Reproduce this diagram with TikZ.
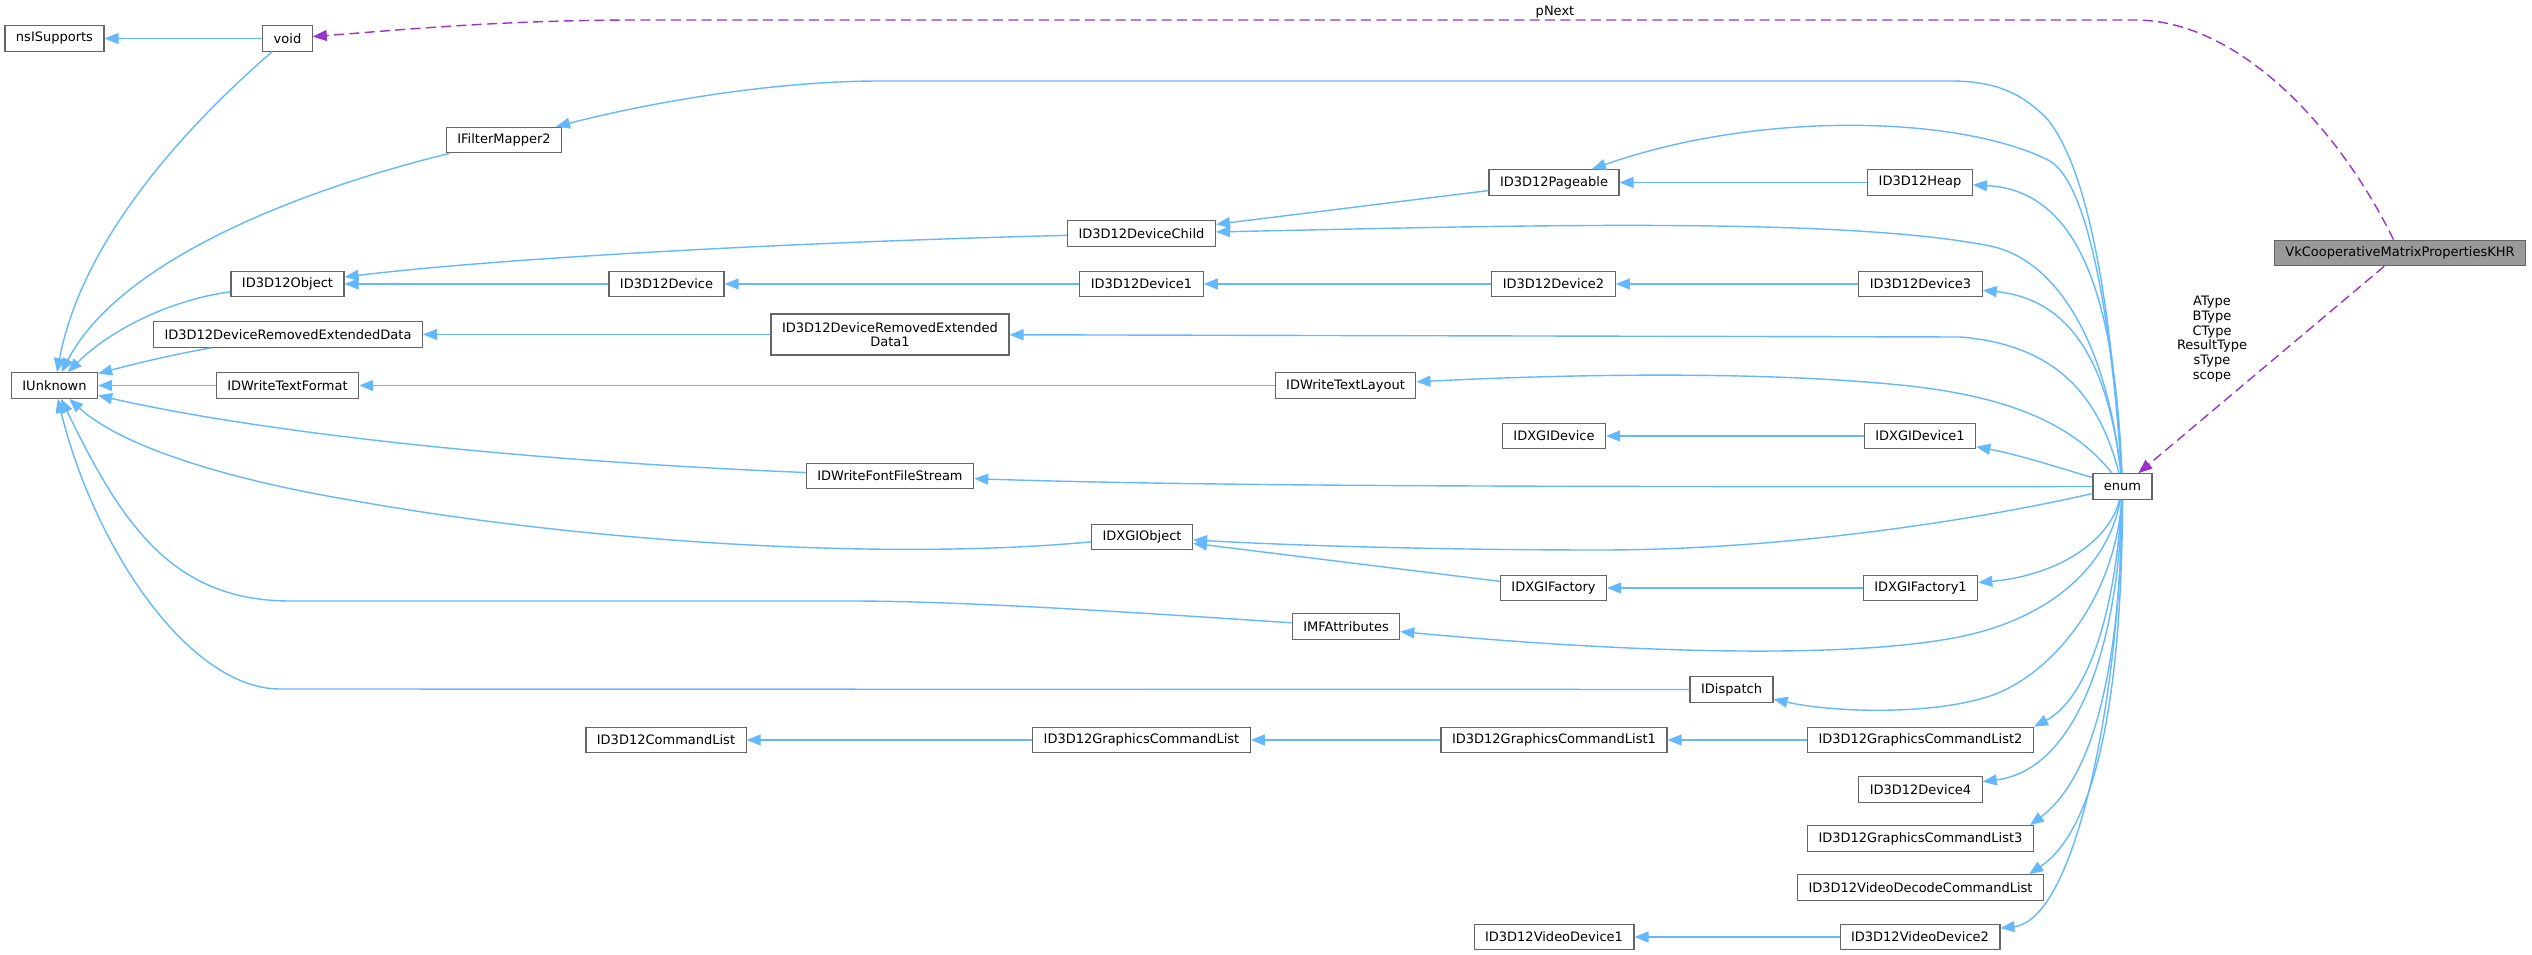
\documentclass[tikz,border=0pt]{standalone}
\usepackage{fontspec}
\setmainfont{DejaVu Sans}
\usetikzlibrary{arrows.meta,calc}
\definecolor{edgeblue}{HTML}{63B8FF}
\definecolor{edgeviolet}{HTML}{9A32CD}
\definecolor{boxline}{HTML}{666666}
\definecolor{focusfill}{HTML}{999999}
\tikzset{classbox/.style={draw=boxline,fill=white,line width=.9pt,inner xsep=8.25pt,inner ysep=0pt,minimum height=19.1pt,font=\fontsize{9.75}{11}\selectfont,align=center},
focusbox/.style={classbox,fill=focusfill},
inherit/.style={edgeblue,line width=1.05pt,-{Triangle[length=10.5pt,width=8.25pt]}},
usage/.style={edgeviolet,line width=1.05pt,dash pattern=on 7.5pt off 4pt,-{Triangle[length=10.5pt,width=8.25pt]}},
edgelabel/.style={font=\fontsize{9.75}{11}\selectfont,align=center,inner sep=0pt}}

\begin{document}
\begin{tikzpicture}[x=.75pt,y=-.75pt]
\fill[white] (0,0) rectangle (2532,955);
% classes, column by column
\node[classbox] (nsis) at (54.5,38.5) {nsISupports};
\node[classbox] (iunk) at (54.5,385.5) {IUnknown};
\node[classbox] (void) at (287.5,38.5) {void};
\node[classbox] (ifm) at (504,140) {IFilterMapper2};
\node[classbox] (d3dobj) at (287.5,284) {ID3D12Object};
\node[classbox] (dred) at (288,334.5) {ID3D12DeviceRemovedExtendedData};
\node[classbox] (tformat) at (287.5,385.5) {IDWriteTextFormat};
\node[classbox] (dev) at (666.5,284) {ID3D12Device};
\node[classbox] (cmdlist) at (666,740) {ID3D12CommandList};
\node[classbox,minimum height=30.75pt] (dred1) at (890,334.5) {ID3D12DeviceRemovedExtended\\Data1};
\node[classbox] (ffs) at (890,476) {IDWriteFontFileStream};
\node[classbox] (dchild) at (1141.5,233.5) {ID3D12DeviceChild};
\node[classbox] (dev1) at (1141.5,284) {ID3D12Device1};
\node[classbox] (dxobj) at (1142,537) {IDXGIObject};
\node[classbox] (gcl) at (1141.5,740) {ID3D12GraphicsCommandList};
\node[classbox] (tlayout) at (1345.5,385.5) {IDWriteTextLayout};
\node[classbox] (mfattr) at (1346,626.5) {IMFAttributes};
\node[classbox] (pageable) at (1554,182.5) {ID3D12Pageable};
\node[classbox] (dev2) at (1553.5,284) {ID3D12Device2};
\node[classbox] (dxdev) at (1554,436) {IDXGIDevice};
\node[classbox] (dxfac) at (1553.5,588) {IDXGIFactory};
\node[classbox] (gcl1) at (1554,740) {ID3D12GraphicsCommandList1};
\node[classbox] (vdev1) at (1554,937) {ID3D12VideoDevice1};
\node[classbox] (dispatch) at (1731.5,689.5) {IDispatch};
\node[classbox] (heap) at (1920,182.5) {ID3D12Heap};
\node[classbox] (dev3) at (1920.5,284) {ID3D12Device3};
\node[classbox] (dxdev1) at (1920,436) {IDXGIDevice1};
\node[classbox] (dxfac1) at (1920.5,588) {IDXGIFactory1};
\node[classbox] (gcl2) at (1920.5,740) {ID3D12GraphicsCommandList2};
\node[classbox] (dev4) at (1920.5,789.5) {ID3D12Device4};
\node[classbox] (gcl3) at (1920.5,838.5) {ID3D12GraphicsCommandList3};
\node[classbox] (vdcl) at (1920.5,887.5) {ID3D12VideoDecodeCommandList};
\node[classbox] (vdev2) at (1920,937) {ID3D12VideoDevice2};
\node[classbox] (enum) at (2122.5,486.5) {enum};
\node[focusbox] (vkcmp) at (2400,253) {VkCooperativeMatrixPropertiesKHR};

% inheritance
\draw[inherit] (void) -- (nsis);
\draw[inherit] (void) .. controls (170,140) and (80,250) .. (iunk);
\draw[inherit] (ifm) .. controls (300,190) and (120,260) .. (iunk);
\draw[inherit] (d3dobj) .. controls (170,300) and (110,330) .. (iunk);
\draw[inherit] (dred) .. controls (170,355) and (130,365) .. (iunk);
\draw[inherit] (tformat) -- (iunk);
\draw[inherit] (ffs) .. controls (500,460) and (250,430) .. (iunk);
\draw[inherit] (dxobj) .. controls (900,560) and (600,545) .. (350,500) .. controls (220,478) and (120,445) .. (iunk);
\draw[inherit] (mfattr) .. controls (1100,610) and (950,601) .. (850,601) -- (290,601) .. controls (170,601) and (120,520) .. (iunk);
\draw[inherit] (dispatch) -- (280,689) .. controls (190,689) and (95,550) .. (iunk);
\draw[inherit] (dev) -- (d3dobj);
\draw[inherit] (dchild) .. controls (800,242) and (500,258) .. (d3dobj);
\draw[inherit] (dev1) -- (dev);
\draw[inherit] (dred1) -- (dred);
\draw[inherit] (tlayout) -- (tformat);
\draw[inherit] (pageable) -- (dchild);
\draw[inherit] (heap) -- (pageable);
\draw[inherit] (dev2) -- (dev1);
\draw[inherit] (dev3) -- (dev2);
\draw[inherit] (dxdev1) -- (dxdev);
\draw[inherit] (dxfac) -- (dxobj);
\draw[inherit] (dxfac1) -- (dxfac);
\draw[inherit] (gcl) -- (cmdlist);
\draw[inherit] (gcl1) -- (gcl);
\draw[inherit] (gcl2) -- (gcl1);
\draw[inherit] (vdev2) -- (vdev1);

% enum fan
\draw[inherit] (enum) .. controls (2108,260) and (2080,160) .. (2048,120) .. controls (2020,90) and (1990,81) .. (1950,81) -- (880,81) .. controls (780,81) and (660,100) .. (ifm);
\draw[inherit] (enum) .. controls (2112,330) and (2090,181) .. (2048,160) .. controls (1960,116) and (1760,110) .. (pageable);
\draw[inherit] (enum) .. controls (2115,300) and (2080,190) .. (heap);
\draw[inherit] (enum) .. controls (2105,330) and (2050,258) .. (1990,246) .. controls (1840,216) and (1500,226) .. (dchild);
\draw[inherit] (enum) .. controls (2110,380) and (2080,300) .. (dev3);
\draw[inherit] (enum) .. controls (2100,400) and (2060,345) .. (1960,337) -- (dred1);
\draw[inherit] (enum) .. controls (2070,420) and (2000,395) .. (1900,385) .. controls (1750,370) and (1550,375) .. (tlayout);
\draw[inherit] (enum) .. controls (2060,468) and (2020,455) .. (dxdev1);
\draw[inherit] (enum) .. controls (1500,487) and (1200,486) .. (ffs);
\draw[inherit] (enum) .. controls (2000,515) and (1800,550) .. (1600,550) .. controls (1450,550) and (1300,546) .. (dxobj);
\draw[inherit] (enum) .. controls (2110,540) and (2060,575) .. (dxfac1);
\draw[inherit] (enum) .. controls (2110,560) and (2060,610) .. (1980,632) .. controls (1880,659.5) and (1650,655) .. (mfattr);
\draw[inherit] (enum) .. controls (2115,600) and (2050,676) .. (1990,696) .. controls (1930,716) and (1830,712) .. (dispatch);
\draw[inherit] (enum) .. controls (2115,620) and (2085,700) .. (gcl2.north east);
\draw[inherit] (enum) .. controls (2118,650) and (2075,770) .. (dev4);
\draw[inherit] (enum) .. controls (2120,680) and (2090,780) .. ($(gcl3.north east)+(-4,0)$);
\draw[inherit] (enum) .. controls (2122,700) and (2095,830) .. ($(vdcl.north east)+(-15,0)$);
\draw[inherit] (enum) .. controls (2120,700) and (2075,920) .. (vdev2);

% member links
\draw[usage] (vkcmp) .. controls (2340,130) and (2240,20) .. (2135,20) -- (640,20) .. controls (500,20) and (400,30) .. (void);
\draw[usage] (vkcmp) -- (enum);
\node[edgelabel] (pnextlbl) at (1555,12) {pNext};
\node[edgelabel] (typelbl) at (2212,339) {AType\\BType\\CType\\ResultType\\sType\\scope};
\end{tikzpicture}
\end{document}
